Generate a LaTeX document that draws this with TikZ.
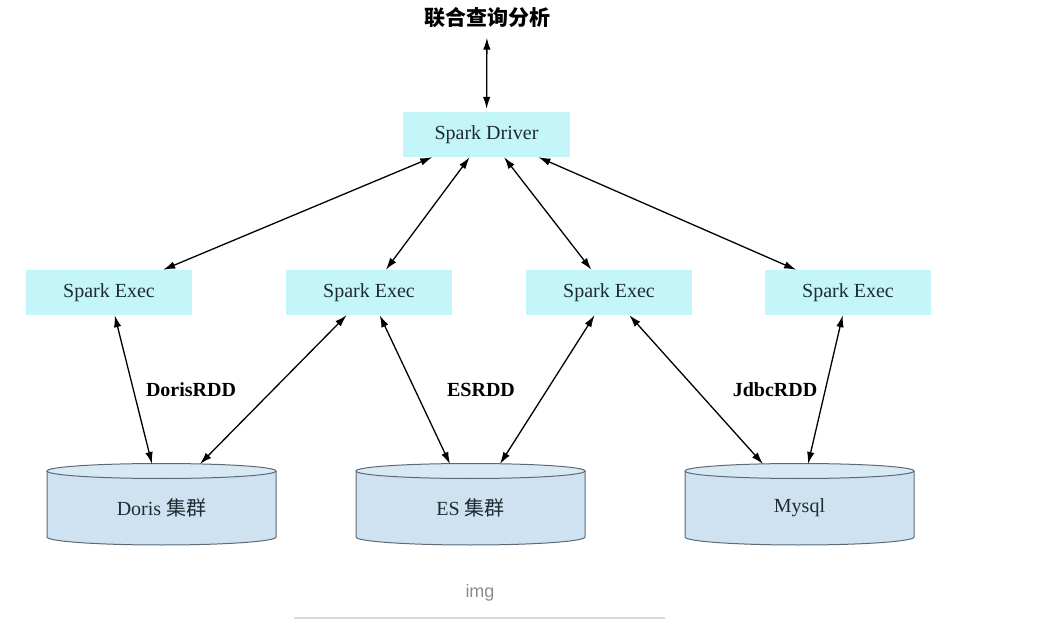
\documentclass[tikz,border=0pt]{standalone}
\usepackage{fontspec}
\setmainfont{Liberation Serif}
\newfontfamily\cjk{Noto Sans CJK SC}
\newfontfamily\capfont{Liberation Sans}
\usetikzlibrary{arrows.meta}
\definecolor{execfill}{RGB}{196,246,249}
\definecolor{dbfill}{RGB}{206,226,241}
\definecolor{dbtop}{RGB}{216,233,246}
\definecolor{dbline}{RGB}{95,105,115}
\definecolor{boxtext}{RGB}{30,44,50}
\definecolor{capgray}{RGB}{140,140,140}
\definecolor{capline}{RGB}{218,218,218}
\begin{document}
\begin{tikzpicture}[x=1pt,y=-1pt,
  box/.style={fill=execfill,minimum width=166pt,minimum height=45pt,inner sep=0pt,
    text=boxtext,font=\fontsize{20}{22}\selectfont},
  link/.style={{Latex[length=12pt,width=7.5pt]}-{Latex[length=12pt,width=7.5pt]},line width=1.3pt},
  rdd/.style={font=\bfseries\fontsize{20}{22}\selectfont},
  dbtext/.style={text=boxtext,font=\fontsize{20}{22}\selectfont}]
\useasboundingbox (0,0) rectangle (1053,644);
\node (query) at (487,18) {\cjk\bfseries\fontsize{21}{23}\selectfont 联合查询分析};
\node[box,minimum width=167pt] (driver) at (486.5,134.5) {Spark Driver};
\node[box] (e1) at (109,292.5) {Spark Exec};
\node[box] (e2) at (369,292.5) {Spark Exec};
\node[box] (e3) at (609,292.5) {Spark Exec};
\node[box] (e4) at (848,292.5) {Spark Exec};
% storage cylinders
\foreach \cx/\name/\lab in {161.5/doris/Doris {\cjk 集群}, 470.5/es/ES {\cjk 集群}, 799.5/mysql/Mysql} {
  \fill[dbfill] (\cx-114.5,471) -- (\cx-114.5,537) arc[start angle=180,end angle=0,x radius=114.5,y radius=8] -- (\cx+114.5,471) -- cycle;
  \draw[dbline,line width=1pt] (\cx-114.5,471) -- (\cx-114.5,537) arc[start angle=180,end angle=0,x radius=114.5,y radius=8] -- (\cx+114.5,471);
  \filldraw[fill=dbtop,draw=dbline,line width=1pt] (\cx,471) ellipse[x radius=114.5,y radius=7.5];
  \node[dbtext] (\name) at (\cx,508) {\lab};
}
\coordinate (dorisL) at (152,464);
\coordinate (dorisR) at (200,464);
\coordinate (esL) at (450,464);
\coordinate (esR) at (500,464);
\coordinate (mysqlL) at (763,464);
\coordinate (mysqlR) at (808,464);
% links
\draw[link,shorten <=6pt,shorten >=3pt] (query) -- (driver);
\foreach \e in {e1,e2,e3,e4}
  \draw[link] (driver) -- (\e);
\draw[link] (e1) -- (dorisL);
\draw[link] (e2) -- (dorisR);
\draw[link] (e2) -- (esL);
\draw[link] (e3) -- (esR);
\draw[link] (e3) -- (mysqlL);
\draw[link] (e4) -- (mysqlR);
\node[rdd] (dorisrdd) at (191,390) {DorisRDD};
\node[rdd] (esrdd) at (481,390) {ESRDD};
\node[rdd] (jdbcrdd) at (775,390) {JdbcRDD};
% caption
\node[text=capgray,font=\capfont\fontsize{18}{20}\selectfont] (cap) at (480,593) {img};
\draw[capline,line width=2pt] (294,618) -- (665,618);
\end{tikzpicture}
\end{document}
